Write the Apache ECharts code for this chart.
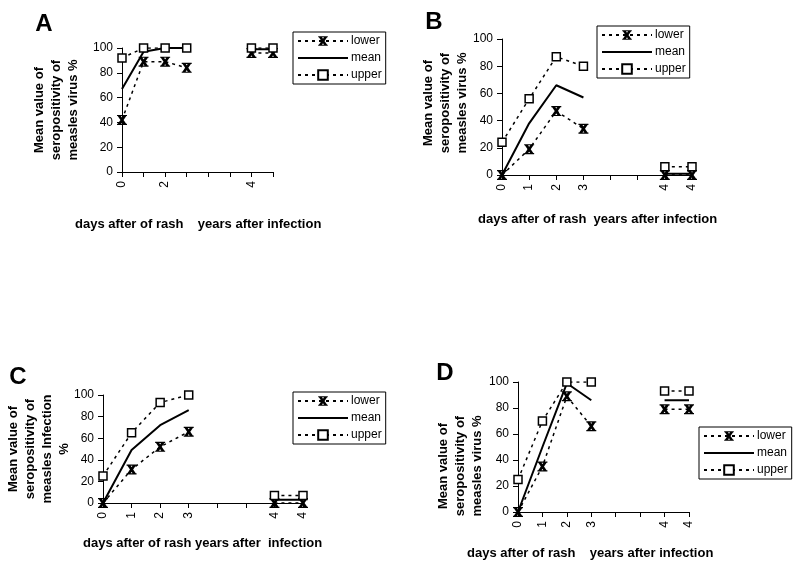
<!DOCTYPE html>
<html><head><meta charset="utf-8">
<script src="https://cdn.jsdelivr.net/npm/echarts@6/dist/echarts.min.js"></script>
<style>html,body{margin:0;padding:0;background:#fff}#c{width:800px;height:567px}</style>
</head><body><div id="c"></div>
<script>
const categories = ['0','1','2','3','','','4','4'];
const yTicks = [0, 20, 40, 60, 80, 100];

const aLower = [42, 89, 89, 84, null, null, 96, 96];
const aMean  = [67, 97, 100, 100, null, null, 99, 99];
const aUpper = [92, 100, 100, 100, null, null, 100, 100];

const bLower = [0, 19, 47, 34, null, null, 0, 0];
const bMean  = [0, 38, 66, 57, null, null, 1, 1];
const bUpper = [24, 56, 87, 80, null, null, 6, 6];

const cLower = [0, 31, 52, 66, null, null, 0, 0];
const cMean  = [0, 49, 72, 86, null, null, 3, 3];
const cUpper = [25, 65, 93, 100, null, null, 7, 7];

const dLower = [0, 35, 89, 66, null, null, 79, 79];
const dMean  = [0, 50, 99, 86, null, null, 86, 86];
const dUpper = [25, 70, 100, 100, null, null, 93, 93];

const seriesNames = ['lower', 'mean', 'upper'];
const panelLetters = ['A', 'B', 'C', 'D'];
const yTitles = [
  'Mean value of\nseropositivity of\nmeasles virus %',
  'Mean value of\nseropositivity of\nmeasles virus %',
  'Mean value of\nseropositivity of\nmeasles Infection\n%',
  'Mean value of\nseropositivity of\nmeasles virus %'
];
const xTitles = [
  'days after of rash    years after infection',
  'days after of rash  years after infection',
  'days after of rash years after  infection',
  'days after of rash    years after infection'
];

const panels = [
  {lower: aLower, mean: aMean, upper: aUpper, grid: {left:122, top:48, width:151, height:124}, labelInterval: 1,
   legend: {left:293, top:32}, letter:[44,24], ytitle:[56,110], xtitle:[75,224]},
  {lower: bLower, mean: bMean, upper: bUpper, grid: {left:502, top:39, width:190, height:136}, labelInterval: 0,
   legend: {left:597, top:26}, letter:[434,22], ytitle:[445,103], xtitle:[478,219]},
  {lower: cLower, mean: cMean, upper: cUpper, grid: {left:103, top:395, width:200, height:108}, labelInterval: 0,
   legend: {left:293, top:392}, letter:[18,377], ytitle:[39,449], xtitle:[83,543]},
  {lower: dLower, mean: dMean, upper: dUpper, grid: {left:518, top:382, width:171, height:130}, labelInterval: 0,
   legend: {left:699, top:427}, letter:[445,373], ytitle:[460,466], xtitle:[467,553]}
];

const FONT = 'Liberation Sans, Arial, sans-serif';
const starPath = 'path://M0,0L3.2,0L10,10L6.8,10Z M6.8,0L10,0L3.2,10L0,10Z M0,0L10,0L10,1.2L0,1.2Z M0,8.8L10,8.8L10,10L0,10Z';

const grids = [], xAxes = [], yAxes = [], series = [], legends = [], graphics = [];
panels.forEach((p, i) => {
  grids.push(Object.assign({}, p.grid));
  xAxes.push({
    type: 'category', gridIndex: i, data: categories, boundaryGap: false,
    axisLine: {lineStyle: {color: '#000', width: 1}},
    axisTick: {show: true, interval: 0, length: 5, lineStyle: {color: '#000'}},
    axisLabel: {interval: p.labelInterval, rotate: 90, color: '#000', fontSize: 12, fontFamily: FONT, margin: 9},
    splitLine: {show: false}
  });
  yAxes.push({
    type: 'value', gridIndex: i, min: 0, max: 100, interval: 20,
    axisLine: {show: true, lineStyle: {color: '#000', width: 1}},
    axisTick: {show: true, length: 5, lineStyle: {color: '#000'}},
    axisLabel: {color: '#000', fontSize: 12, fontFamily: FONT, margin: 9},
    splitLine: {show: false}
  });
  series.push({
    name: 'lower', type: 'line', xAxisIndex: i, yAxisIndex: i, data: p.lower,
    symbol: starPath, symbolSize: 10, connectNulls: false,
    itemStyle: {color: '#000'}, lineStyle: {color: '#000', width: 1.5, type: [3, 4]},
    z: 3, animation: false
  });
  series.push({
    name: 'mean', type: 'line', xAxisIndex: i, yAxisIndex: i, data: p.mean,
    symbol: 'none', connectNulls: false,
    itemStyle: {color: '#000'}, lineStyle: {color: '#000', width: 2, type: 'solid'},
    z: 2, animation: false
  });
  series.push({
    name: 'upper', type: 'line', xAxisIndex: i, yAxisIndex: i, data: p.upper,
    symbol: 'rect', symbolSize: 8, connectNulls: false,
    itemStyle: {color: '#fff', borderColor: '#000', borderWidth: 1.5},
    lineStyle: {color: '#000', width: 1.5, type: [3, 4]},
    z: 4, animation: false
  });
  legends.push({
    data: [
      {name: 'lower'},
      {name: 'mean', itemStyle: {opacity: 0}},
      {name: 'upper'}
    ],
    orient: 'vertical', left: p.legend.left, top: p.legend.top,
    itemWidth: 50, itemHeight: 12, itemGap: 5, padding: [3, 4, 3, 4],
    borderColor: '#000', borderWidth: 1, selectedMode: false,
    textStyle: {color: '#000', fontSize: 12, fontFamily: FONT, padding: [0, 0, 0, -2]}
  });
  graphics.push({
    type: 'text', x: p.letter[0], y: p.letter[1],
    style: {text: panelLetters[i], font: 'bold 24px ' + FONT, fill: '#000', align: 'center', verticalAlign: 'middle'}
  });
  graphics.push({
    type: 'text', x: p.ytitle[0], y: p.ytitle[1], rotation: Math.PI / 2,
    style: {text: yTitles[i], font: 'bold 13px ' + FONT, fill: '#000', align: 'center', verticalAlign: 'middle', lineHeight: 17}
  });
  graphics.push({
    type: 'text', x: p.xtitle[0], y: p.xtitle[1],
    style: {text: xTitles[i], font: 'bold 13px ' + FONT, fill: '#000', align: 'left', verticalAlign: 'middle'}
  });
});

const chart = echarts.init(document.getElementById('c'), null, {renderer: 'canvas'});
chart.setOption({
  backgroundColor: '#fff',
  animation: false,
  grid: grids, xAxis: xAxes, yAxis: yAxes, series: series, legend: legends,
  graphic: graphics
});
</script></body></html>
